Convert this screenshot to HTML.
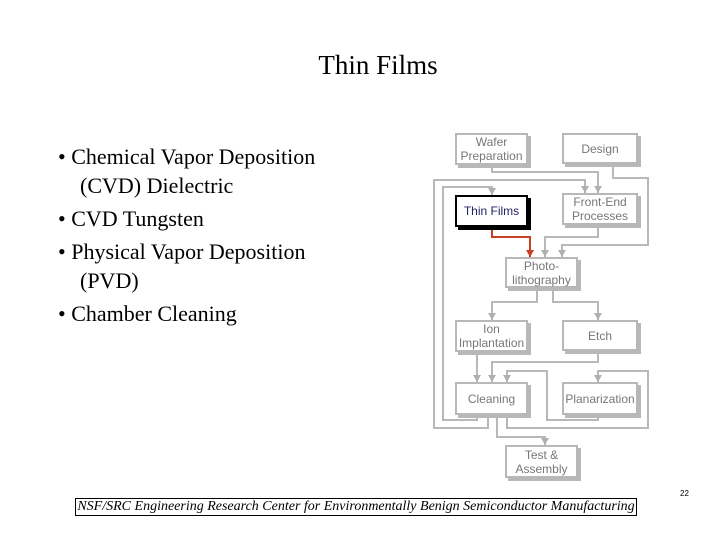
<!DOCTYPE html>
<html><head><style>
body{margin:0;width:720px;height:540px;background:#fff;position:relative;overflow:hidden;font-family:"Liberation Serif",serif}
.t{position:absolute;left:0;width:756px;top:50px;text-align:center;font-size:27px}
ul{position:absolute;left:58px;top:142px;width:300px;margin:0;padding:0;list-style:none;font-size:22px;line-height:29px}
li{padding-left:22px;text-indent:-22px;margin-bottom:4px}
.f{position:absolute;left:75px;top:498px;width:560px;height:16px;border:1px solid #000;font-style:italic;font-size:14px;line-height:16px;text-align:center;color:#000;white-space:nowrap}
.n{position:absolute;left:680px;top:489px;font-family:"Liberation Sans",sans-serif;font-size:8px}
.b{position:absolute;border:2px solid #b8b8b8;box-shadow:3px 3px 0 #b8b8b8;background:#fff;font-family:"Liberation Sans",sans-serif;font-size:12px;color:#777;display:flex;align-items:center;justify-content:center;text-align:center;line-height:14px;box-sizing:border-box}
</style></head><body>
<div class="t">Thin Films</div>
<ul>
<li>• Chemical Vapor Deposition (CVD) Dielectric</li>
<li>• CVD Tungsten</li>
<li>• Physical Vapor Deposition (PVD)</li>
<li>• Chamber Cleaning</li>
</ul>
<svg width="720" height="540" style="position:absolute;left:0;top:0" fill="none" stroke="#b8b8b8" stroke-width="2">
<defs><marker id="a" markerWidth="8" markerHeight="8" refX="4" refY="7" orient="0" markerUnits="userSpaceOnUse"><path d="M0,0L8,0L4,7z" fill="#b0b0b0" stroke="none"/></marker>
<marker id="r" markerWidth="8" markerHeight="8" refX="4" refY="7" orient="0" markerUnits="userSpaceOnUse"><path d="M0,0L8,0L4,7z" fill="#c84020" stroke="none"/></marker></defs>
<polyline points="488,415 488,428 434,428 434,180 585,180 585,193" marker-end="url(#a)"/>
<polyline points="477,415 477,420 443,420 443,187 492,187 492,195" marker-end="url(#a)"/>
<polyline points="492,165 492,172 598,172 598,193" marker-end="url(#a)"/>
<polyline points="613,163 613,178 648,178 648,245 562,245 562,257" marker-end="url(#a)"/>
<polyline points="598,225 598,237 545,237 545,257" marker-end="url(#a)"/>
<polyline points="537,287 537,302 492,302 492,320" marker-end="url(#a)"/>
<polyline points="553,287 553,302 598,302 598,320" marker-end="url(#a)"/>
<polyline points="477,352 477,382" marker-end="url(#a)"/>
<polyline points="598,350 598,362 492,362 492,382" marker-end="url(#a)"/>
<polyline points="598,415 598,420 547,420 547,371 507,371 507,382" marker-end="url(#a)"/>
<polyline points="507,415 507,428 648,428 648,371 598,371 598,382" marker-end="url(#a)"/>
<polyline points="497,415 497,437 545,437 545,445" marker-end="url(#a)"/>
<polyline points="492,227 492,237 530,237 530,257" stroke="#c84020" marker-end="url(#r)"/>
</svg>
<div class="b" style="left:455px;top:133px;width:73px;height:32px">Wafer<br>Preparation</div>
<div class="b" style="left:562px;top:133px;width:76px;height:31px">Design</div>
<div class="b" style="left:455px;top:195px;width:73px;height:32px;border-color:#000;box-shadow:3px 3px 0 #000;color:#222266">Thin Films</div>
<div class="b" style="left:562px;top:193px;width:76px;height:32px">Front-End<br>Processes</div>
<div class="b" style="left:505px;top:257px;width:73px;height:31px">Photo-<br>lithography</div>
<div class="b" style="left:455px;top:320px;width:73px;height:32px">Ion<br>Implantation</div>
<div class="b" style="left:562px;top:320px;width:76px;height:31px">Etch</div>
<div class="b" style="left:455px;top:382px;width:73px;height:33px">Cleaning</div>
<div class="b" style="left:562px;top:382px;width:76px;height:33px">Planarization</div>
<div class="b" style="left:505px;top:445px;width:73px;height:33px">Test &amp;<br>Assembly</div>
<div class="f">NSF/SRC Engineering Research Center for Environmentally Benign Semiconductor Manufacturing</div>
<div class="n">22</div>
</body></html>
